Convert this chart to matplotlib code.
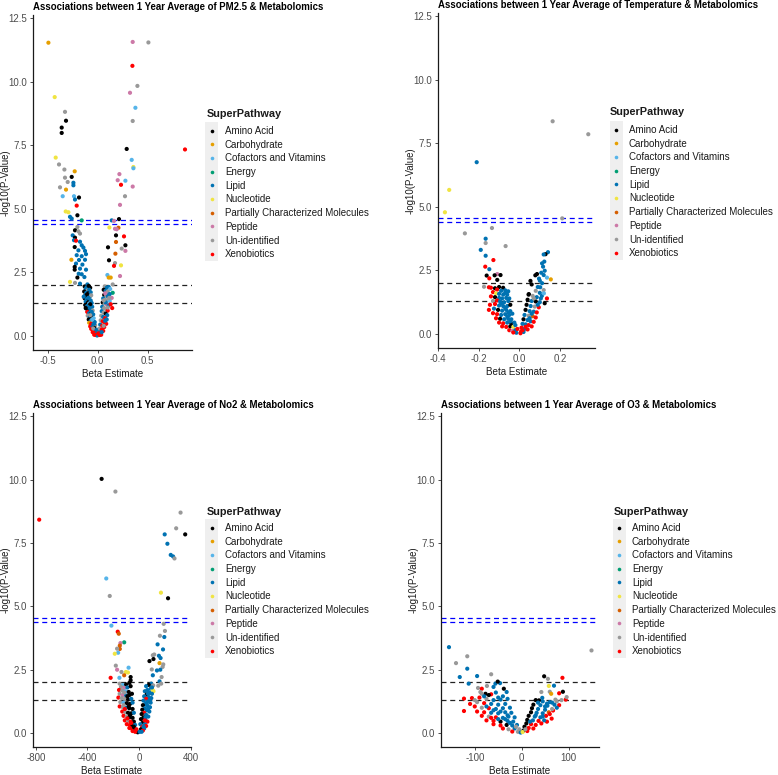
import matplotlib
matplotlib.use("Agg")
import matplotlib.pyplot as plt
from matplotlib.lines import Line2D
from matplotlib.patches import Rectangle

plt.rcParams["font.family"] = ["Liberation Sans", "DejaVu Sans"]

# legend categories and colours
pathways = ["Amino Acid", "Carbohydrate", "Cofactors and Vitamins", "Energy", "Lipid",
            "Nucleotide", "Partially Characterized Molecules", "Peptide", "Un-identified",
            "Xenobiotics"]
codes = ["AA", "CH", "CV", "EN", "LI", "NU", "PC", "PE", "UN", "XE"]
colors = ["#000000", "#E69F00", "#56B4E9", "#009E73", "#0072B2", "#F0E442", "#D55E00",
          "#CC79A7", "#999999", "#FF0000"]

titles = ["Associations between 1 Year Average of PM2.5 & Metabolomics",
          "Associations between 1 Year Average of Temperature & Metabolomics",
          "Associations between 1 Year Average of No2 & Metabolomics",
          "Associations between 1 Year Average of O3 & Metabolomics"]

x_ticks = [[-0.5, 0.0, 0.5], [-0.4, -0.2, 0.0, 0.2], [-800, -400, 0, 400], [-100, 0, 100]]
x_labels = [["-0.5", "0.0", "0.5"], ["-0.4", "-0.2", "0.0", "0.2"],
            ["-800", "-400", "0", "400"], ["-100", "0", "100"]]
y_ticks = [0, 2.5, 5, 7.5, 10, 12.5]
y_labels = ["0.0", "2.5", "5.0", "7.5", "10.0", "12.5"]

black_lines = [2.0, 1.3]
blue_lines = [4.55, 4.40]

# (beta, -log10 p, pathway)
pm25_points = [
    (-0.493, 11.54, "CH"), (0.35, 11.57, "PE"), (0.507, 11.55, "UN"), (0.347, 10.63, "XE"),
    (-0.43, 9.4, "NU"), (0.397, 9.84, "UN"), (0.323, 9.57, "PE"), (0.377, 8.98, "CV"),
    (-0.327, 8.82, "UN"), (-0.317, 8.47, "AA"), (-0.36, 8.2, "AA"), (-0.36, 7.99, "AA"),
    (0.35, 8.46, "UN"), (0.29, 7.36, "AA"), (0.873, 7.34, "XE"), (-0.42, 7.02, "NU"),
    (-0.387, 6.75, "UN"), (-0.333, 6.55, "UN"), (-0.23, 6.48, "CH"), (0.34, 6.93, "CV"),
    (0.357, 6.65, "NU"), (0.357, 6.6, "CV"), (-0.327, 6.23, "UN"), (-0.30, 6.06, "UN"),
    (-0.26, 6.26, "AA"), (-0.243, 6.03, "LI"), (-0.243, 5.93, "LI"), (0.217, 6.37, "PE"),
    (0.2, 6.13, "PE"), (0.277, 6.11, "CV"), (0.233, 5.95, "XE"), (0.35, 5.88, "PE"),
    (-0.377, 5.85, "UN"), (-0.317, 5.76, "CH"), (-0.35, 5.5, "CV"), (-0.237, 5.5, "CV"),
    (-0.227, 5.37, "LI"), (-0.187, 5.45, "AA"), (-0.21, 5.13, "XE"), (0.273, 5.5, "UN"),
    (0.223, 5.16, "PE"), (-0.32, 4.9, "NU"), (-0.293, 4.87, "NU"), (-0.203, 4.75, "AA"),
    (-0.277, 4.69, "LI"), (-0.26, 4.62, "LI"), (-0.16, 4.55, "EN"), (0.14, 4.55, "LI"),
    (0.213, 4.6, "AA"), (0.163, 4.53, "PE"), (0.117, 4.27, "NU"), (0.207, 4.26, "PC"),
    (0.19, 4.2, "PE"), (0.173, 4.22, "PE"), (0.263, 3.92, "XE"), (0.183, 3.96, "AA"),
    (0.183, 3.7, "PC"), (0.277, 3.57, "AA"), (0.103, 3.49, "AA"), (0.24, 3.44, "UN"),
    (0.277, 3.35, "PE"), (0.177, 3.24, "PC"), (0.113, 2.98, "AA"), (0.173, 2.87, "UN"),
    (0.163, 2.76, "XE"), (0.233, 2.78, "NU"), (0.097, 2.4, "CV"), (0.11, 2.3, "CH"),
    (0.13, 2.3, "CH"), (0.223, 2.36, "PE"), (0.15, 2.03, "UN"),
    (-0.203, 4.29, "UN"), (-0.227, 4.16, "AA"), (-0.193, 4.12, "UN"), (-0.177, 4.03, "UN"),
    (-0.25, 3.96, "LI"), (-0.227, 3.87, "AA"), (-0.237, 3.77, "LI"), (-0.217, 3.75, "XE"),
    (-0.177, 3.71, "LI"), (-0.16, 3.57, "LI"), (-0.23, 3.5, "AA"), (-0.143, 3.48, "LI"),
    (-0.193, 3.37, "LI"), (-0.127, 3.35, "LI"), (-0.117, 3.22, "LI"), (-0.21, 3.18, "LI"),
    (-0.16, 3.14, "LI"), (-0.263, 3.0, "CH"), (-0.187, 2.99, "LI"), (-0.127, 3.0, "LI"),
    (-0.217, 2.85, "LI"), (-0.153, 2.81, "LI"), (-0.23, 2.72, "AA"), (-0.23, 2.61, "AA"),
    (-0.177, 2.65, "LI"), (-0.117, 2.61, "LI"), (-0.19, 2.45, "LI"), (-0.16, 2.43, "LI"),
    (-0.203, 2.3, "AA"), (-0.133, 2.32, "LI"), (-0.277, 2.13, "NU"), (-0.227, 2.09, "UN"),
    (-0.177, 2.06, "LI"), (-0.103, 2.03, "LI"),
    (-0.13, 1.95, "AA"), (-0.11, 1.92, "LI"), (-0.09, 1.97, "AA"), (-0.075, 1.9, "AA"),
    (-0.12, 1.85, "LI"), (-0.1, 1.8, "UN"), (-0.085, 1.82, "LI"), (-0.135, 1.75, "AA"),
    (-0.115, 1.7, "LI"), (-0.095, 1.68, "AA"), (-0.07, 1.72, "LI"), (-0.125, 1.6, "LI"),
    (-0.105, 1.58, "AA"), (-0.08, 1.55, "LI"), (-0.065, 1.6, "UN"), (-0.13, 1.48, "AA"),
    (-0.11, 1.45, "LI"), (-0.09, 1.42, "AA"), (-0.07, 1.4, "LI"), (-0.12, 1.35, "LI"),
    (-0.1, 1.3, "AA"), (-0.085, 1.28, "CV"), (-0.06, 1.3, "LI"), (-0.125, 1.22, "AA"),
    (-0.105, 1.18, "LI"), (-0.08, 1.15, "UN"), (-0.055, 1.15, "LI"), (-0.115, 1.08, "LI"),
    (-0.095, 1.05, "AA"), (-0.07, 1.02, "LI"), (-0.05, 1.0, "UN"), (-0.105, 0.95, "XE"),
    (-0.085, 0.9, "LI"), (-0.065, 0.88, "AA"), (-0.045, 0.85, "LI"), (-0.1, 0.8, "UN"),
    (-0.08, 0.75, "LI"), (-0.06, 0.72, "AA"), (-0.04, 0.7, "CV"), (-0.09, 0.65, "AA"),
    (-0.07, 0.6, "LI"), (-0.05, 0.58, "UN"), (-0.03, 0.55, "LI"), (-0.085, 0.52, "CH"),
    (-0.065, 0.48, "XE"), (-0.045, 0.45, "LI"), (-0.025, 0.42, "UN"), (-0.075, 0.38, "XE"),
    (-0.055, 0.35, "LI"), (-0.035, 0.32, "AA"), (-0.065, 0.28, "XE"), (-0.045, 0.22, "XE"),
    (-0.025, 0.2, "LI"), (-0.05, 0.15, "XE"), (-0.03, 0.12, "XE"), (-0.015, 0.08, "LI"),
    (-0.02, 0.04, "XE"), (-0.005, 0.02, "LI"),
    (-0.11, 1.62, "AA"), (-0.095, 1.5, "LI"), (-0.075, 1.25, "AA"), (-0.09, 1.12, "LI"),
    (-0.06, 0.95, "LI"), (-0.075, 0.82, "UN"), (-0.055, 0.65, "CV"), (-0.035, 0.48, "LI"),
    (-0.045, 0.3, "UN"), (-0.01, 0.25, "LI"), (-0.14, 1.55, "LI"), (-0.12, 1.1, "AA"),
    (0.07, 1.95, "UN"), (0.09, 1.9, "LI"), (0.11, 1.93, "LI"), (0.125, 1.85, "CV"),
    (0.06, 1.82, "AA"), (0.08, 1.78, "LI"), (0.1, 1.75, "UN"), (0.15, 1.7, "EN"),
    (0.12, 1.65, "LI"), (0.065, 1.62, "AA"), (0.085, 1.58, "UN"), (0.105, 1.55, "LI"),
    (0.14, 1.5, "PE"), (0.055, 1.48, "LI"), (0.075, 1.42, "UN"), (0.095, 1.4, "UN"),
    (0.12, 1.38, "CV"), (0.05, 1.32, "AA"), (0.07, 1.28, "UN"), (0.09, 1.25, "PE"),
    (0.11, 1.2, "LI"), (0.145, 1.1, "XE"), (0.045, 1.15, "LI"), (0.065, 1.1, "UN"),
    (0.085, 1.05, "UN"), (0.1, 1.0, "XE"), (0.04, 0.98, "LI"), (0.06, 0.92, "UN"),
    (0.08, 0.88, "AA"), (0.095, 0.82, "LI"), (0.035, 0.8, "UN"), (0.055, 0.75, "LI"),
    (0.075, 0.7, "XE"), (0.09, 0.65, "LI"), (0.03, 0.62, "UN"), (0.05, 0.58, "XE"),
    (0.07, 0.52, "XE"), (0.085, 0.48, "XE"), (0.025, 0.45, "LI"), (0.045, 0.4, "XE"),
    (0.065, 0.35, "XE"), (0.02, 0.3, "UN"), (0.04, 0.25, "XE"), (0.055, 0.2, "XE"),
    (0.015, 0.15, "LI"), (0.03, 0.12, "XE"), (0.01, 0.06, "LI"), (0.02, 0.04, "XE"),
    (0.005, 0.1, "XE"), (0.035, 0.05, "XE"), (0.04, 0.15, "LI"), (0.06, 0.4, "UN"),
    (0.075, 0.6, "LI"), (0.1, 1.12, "UN"), (0.08, 1.32, "LI"), (0.06, 1.4, "UN"),
    (0.1, 1.6, "LI"), (0.115, 1.5, "UN"), (0.13, 1.25, "XE"), (0.075, 1.68, "PE"),
    (-0.035, 0.05, "XE"),
]

temp_points = [
    (0.163, 8.37, "UN"), (0.338, 7.86, "UN"), (-0.21, 6.76, "LI"), (-0.345, 5.67, "NU"),
    (-0.366, 4.79, "NU"), (0.21, 4.55, "UN"), (-0.135, 4.17, "UN"), (-0.268, 3.96, "UN"),
    (-0.166, 3.75, "LI"), (-0.166, 3.58, "UN"), (-0.068, 3.46, "UN"), (-0.19, 3.31, "LI"),
    (-0.166, 3.08, "LI"), (-0.128, 2.91, "XE"), (-0.168, 2.65, "XE"), (-0.148, 2.55, "LI"),
    (-0.109, 2.36, "PE"), (-0.122, 2.31, "AA"), (-0.161, 2.3, "AA"), (-0.148, 2.19, "XE"),
    (-0.093, 2.32, "AA"), (-0.174, 1.86, "UN"), (-0.15, 1.84, "XE"), (-0.109, 2.13, "AA"),
    (0.14, 3.22, "LI"), (0.128, 3.14, "AA"), (0.119, 3.13, "LI"), (0.122, 2.85, "LI"),
    (0.111, 2.78, "LI"), (0.116, 2.65, "LI"), (0.124, 2.49, "LI"), (0.119, 2.32, "LI"),
    (0.135, 2.22, "CV"), (0.154, 2.15, "CH"), (0.107, 2.41, "LI"), (0.086, 2.36, "AA"),
    (0.078, 2.31, "AA"), (0.096, 2.18, "LI"), (0.054, 2.09, "AA"), (0.111, 2.0, "LI"),
    (0.102, 1.84, "LI"), (0.119, 1.73, "UN"), (0.046, 1.57, "AA"), (0.135, 1.4, "XE"),
    (0.124, 1.21, "AA"),
    (-0.14, 1.82, "XE"), (-0.12, 1.8, "AA"), (-0.1, 1.85, "AA"), (-0.08, 1.82, "AA"),
    (-0.11, 1.75, "XE"), (-0.09, 1.7, "LI"), (-0.07, 1.72, "LI"), (-0.055, 1.68, "LI"),
    (-0.13, 1.65, "XE"), (-0.115, 1.6, "NU"), (-0.1, 1.58, "LI"), (-0.08, 1.55, "LI"),
    (-0.06, 1.55, "LI"), (-0.14, 1.48, "XE"), (-0.12, 1.45, "AA"), (-0.1, 1.42, "LI"),
    (-0.085, 1.4, "LI"), (-0.065, 1.42, "LI"), (-0.13, 1.3, "UN"), (-0.11, 1.32, "XE"),
    (-0.095, 1.28, "LI"), (-0.075, 1.25, "LI"), (-0.055, 1.3, "LI"), (-0.145, 1.15, "XE"),
    (-0.12, 1.18, "XE"), (-0.1, 1.12, "LI"), (-0.08, 1.1, "LI"), (-0.06, 1.1, "LI"),
    (-0.045, 1.15, "AA"), (-0.15, 0.95, "XE"), (-0.125, 1.0, "LI"), (-0.105, 0.95, "AA"),
    (-0.085, 0.92, "LI"), (-0.065, 0.95, "LI"), (-0.045, 0.9, "LI"), (-0.13, 0.82, "XE"),
    (-0.11, 0.78, "XE"), (-0.09, 0.75, "LI"), (-0.07, 0.78, "LI"), (-0.05, 0.75, "LI"),
    (-0.035, 0.8, "LI"), (-0.115, 0.62, "XE"), (-0.095, 0.6, "AA"), (-0.075, 0.58, "LI"),
    (-0.055, 0.6, "LI"), (-0.04, 0.58, "LI"), (-0.1, 0.45, "XE"), (-0.08, 0.42, "XE"),
    (-0.06, 0.45, "LI"), (-0.04, 0.42, "AA"), (-0.025, 0.45, "LI"), (-0.085, 0.3, "XE"),
    (-0.065, 0.28, "XE"), (-0.045, 0.3, "AA"), (-0.03, 0.28, "NU"), (-0.05, 0.15, "XE"),
    (-0.035, 0.12, "PE"), (-0.02, 0.15, "LI"), (-0.015, 0.05, "LI"), (-0.03, 0.06, "XE"),
    (-0.07, 1.62, "LI"), (-0.05, 1.4, "LI"), (-0.09, 1.2, "LI"), (-0.07, 1.02, "LI"),
    (-0.055, 0.85, "LI"), (-0.06, 0.68, "LI"), (-0.045, 0.5, "LI"), (-0.02, 0.35, "LI"),
    (-0.01, 0.2, "XE"),
    (0.06, 1.95, "AA"), (0.045, 1.55, "AA"), (0.08, 1.7, "UN"), (0.1, 1.62, "LI"),
    (0.065, 1.5, "UN"), (0.085, 1.45, "LI"), (0.105, 1.4, "LI"), (0.04, 1.35, "AA"),
    (0.06, 1.3, "LI"), (0.08, 1.28, "AA"), (0.1, 1.25, "LI"), (0.035, 1.15, "AA"),
    (0.055, 1.1, "LI"), (0.075, 1.08, "UN"), (0.095, 1.05, "XE"), (0.03, 0.95, "AA"),
    (0.05, 0.9, "LI"), (0.07, 0.88, "LI"), (0.085, 0.85, "XE"), (0.025, 0.75, "LI"),
    (0.045, 0.72, "UN"), (0.065, 0.7, "PC"), (0.08, 0.65, "XE"), (0.02, 0.58, "AA"),
    (0.04, 0.55, "LI"), (0.055, 0.5, "LI"), (0.07, 0.48, "XE"), (0.015, 0.4, "LI"),
    (0.03, 0.38, "LI"), (0.045, 0.35, "XE"), (0.06, 0.3, "XE"), (0.01, 0.25, "XE"),
    (0.025, 0.2, "LI"), (0.04, 0.18, "XE"), (0.008, 0.1, "XE"), (0.02, 0.08, "LI"),
    (0.005, 0.03, "XE"), (0.015, 0.15, "XE"), (0.03, 0.28, "XE"), (0.05, 0.62, "LI"),
    (0.06, 0.8, "LI"), (0.09, 1.15, "LI"), (0.11, 1.5, "LI"), (0.09, 1.85, "LI"),
    (0.07, 1.4, "UN"), (0.1, 2.1, "LI"), (0.12, 1.6, "CV"),
]

no2_points = [
    (-290, 10.03, "AA"), (-183, 9.53, "UN"), (-774, 8.42, "XE"), (322, 8.7, "UN"),
    (288, 8.08, "UN"), (358, 7.84, "AA"), (199, 7.84, "LI"), (220, 7.47, "LI"),
    (246, 7.03, "LI"), (264, 6.97, "LI"), (275, 6.89, "UN"), (-254, 6.1, "CV"),
    (-227, 5.41, "UN"), (170, 5.54, "NU"), (225, 5.32, "AA"), (-214, 4.24, "CV"),
    (-165, 4.0, "XE"), (-157, 3.92, "PC"), (-115, 3.58, "EN"), (-144, 3.55, "PE"),
    (-149, 3.45, "PC"), (-149, 3.32, "PC"), (-170, 3.33, "UN"), (-162, 3.17, "CV"),
    (-188, 3.13, "NU"), (-180, 2.66, "UN"), (-170, 2.5, "PE"), (-136, 2.41, "UN"),
    (-81, 2.58, "CV"), (-102, 2.41, "NU"), (-86, 2.39, "NU"), (-115, 2.28, "PC"),
    (-65, 2.21, "AA"), (-220, 2.18, "XE"), (-152, 2.18, "CV"), (-65, 2.08, "AA"),
    (191, 4.31, "UN"), (201, 4.03, "UN"), (162, 3.84, "UN"), (196, 3.79, "LI"),
    (186, 3.3, "LI"), (144, 3.5, "LI"), (154, 3.05, "LI"), (167, 2.96, "LI"),
    (118, 3.1, "UN"), (107, 3.07, "UN"), (81, 2.84, "AA"), (112, 2.92, "AA"),
    (159, 2.76, "CH"), (188, 2.71, "UN"), (183, 2.61, "UN"), (99, 2.51, "UN"),
    (139, 2.47, "LI"), (165, 2.5, "LI"), (107, 2.28, "LI"), (175, 2.21, "UN"),
    (159, 2.04, "LI"), (172, 1.95, "UN"), (149, 1.87, "UN"), (99, 1.78, "AA"),
    (112, 1.65, "NU"),
    (-150, 1.95, "UN"), (-125, 1.9, "CV"), (-100, 1.92, "AA"), (-75, 1.98, "AA"),
    (-140, 1.82, "UN"), (-115, 1.78, "PE"), (-90, 1.8, "LI"), (-65, 1.85, "AA"),
    (-155, 1.7, "XE"), (-130, 1.68, "UN"), (-105, 1.65, "CV"), (-80, 1.62, "AA"),
    (-150, 1.55, "UN"), (-125, 1.5, "PE"), (-100, 1.48, "LI"), (-75, 1.5, "AA"),
    (-55, 1.55, "AA"), (-160, 1.4, "XE"), (-135, 1.38, "UN"), (-110, 1.35, "UN"),
    (-85, 1.32, "AA"), (-60, 1.35, "LI"), (-145, 1.22, "UN"), (-120, 1.2, "CV"),
    (-95, 1.18, "AA"), (-70, 1.15, "AA"), (-50, 1.2, "LI"), (-150, 1.05, "XE"),
    (-125, 1.02, "UN"), (-100, 1.0, "LI"), (-75, 0.98, "AA"), (-50, 0.95, "AA"),
    (-130, 0.85, "XE"), (-105, 0.82, "UN"), (-85, 0.8, "AA"), (-60, 0.78, "AA"),
    (-40, 0.8, "LI"), (-120, 0.68, "XE"), (-95, 0.65, "UN"), (-75, 0.62, "AA"),
    (-50, 0.6, "AA"), (-110, 0.5, "XE"), (-85, 0.48, "UN"), (-65, 0.45, "XE"),
    (-40, 0.45, "AA"), (-95, 0.35, "XE"), (-70, 0.32, "XE"), (-50, 0.3, "AA"),
    (-30, 0.32, "LI"), (-75, 0.2, "XE"), (-55, 0.18, "XE"), (-35, 0.15, "AA"),
    (-50, 0.08, "XE"), (-25, 0.08, "LI"), (-10, 0.03, "AA"),
    (-115, 1.6, "UN"), (-90, 1.45, "AA"), (-120, 1.1, "UN"), (-80, 1.05, "AA"),
    (-110, 0.95, "XE"), (-70, 0.7, "AA"), (-90, 0.58, "XE"), (-60, 0.4, "XE"),
    (-40, 0.25, "AA"), (-20, 0.15, "XE"), (-30, 0.05, "XE"),
    (95, 1.95, "LI"), (75, 1.9, "AA"), (110, 1.88, "UN"), (55, 1.85, "LI"),
    (90, 1.75, "LI"), (105, 1.7, "NU"), (65, 1.7, "LI"), (45, 1.65, "LI"),
    (80, 1.6, "LI"), (100, 1.55, "LI"), (60, 1.52, "AA"), (40, 1.45, "LI"),
    (75, 1.42, "LI"), (95, 1.38, "LI"), (55, 1.35, "XE"), (35, 1.28, "LI"),
    (70, 1.25, "LI"), (90, 1.2, "LI"), (50, 1.15, "LI"), (30, 1.1, "AA"),
    (65, 1.08, "LI"), (85, 1.02, "LI"), (45, 0.98, "LI"), (25, 0.92, "AA"),
    (60, 0.9, "LI"), (80, 0.85, "LI"), (40, 0.8, "XE"), (20, 0.75, "AA"),
    (55, 0.72, "LI"), (72, 0.65, "LI"), (35, 0.62, "AA"), (15, 0.55, "AA"),
    (50, 0.52, "LI"), (65, 0.45, "XE"), (30, 0.42, "AA"), (45, 0.35, "LI"),
    (10, 0.35, "LI"), (55, 0.28, "XE"), (25, 0.25, "XE"), (40, 0.18, "LI"),
    (15, 0.15, "AA"), (30, 0.1, "XE"), (5, 0.05, "LI"),
    (20, 0.05, "LI"), (35, 0.25, "LI"), (50, 0.62, "LI"), (70, 0.95, "LI"),
    (85, 1.3, "LI"), (100, 1.8, "LI"), (70, 1.55, "LI"), (60, 1.2, "LI"), (45, 0.5, "XE"),
]

o3_points = [
    (-155, 3.39, "LI"), (149, 3.26, "UN"), (-116, 3.03, "UN"), (-140, 2.76, "UN"),
    (-116, 2.54, "LI"), (-132, 2.21, "LI"), (-113, 1.95, "LI"), (-95, 2.25, "LI"),
    (-65, 2.32, "UN"), (-93, 1.78, "UN"), (-74, 1.86, "UN"), (-56, 1.95, "LI"),
    (-46, 1.97, "LI"), (-51, 2.03, "AA"), (-60, 1.82, "LI"), (-123, 1.36, "XE"),
    (-106, 1.38, "XE"), (-123, 0.87, "XE"), (-85, 1.75, "XE"), (-88, 1.62, "UN"),
    (-77, 1.55, "AA"), (-65, 1.53, "XE"), (-32, 1.62, "LI"), (-38, 1.75, "AA"),
    (48, 2.24, "AA"), (56, 2.14, "UN"), (87, 2.18, "XE"), (58, 1.86, "NU"),
    (60, 1.63, "UN"), (63, 1.55, "CH"), (69, 1.87, "LI"), (80, 1.57, "XE"),
    (72, 1.32, "UN"), (88, 1.63, "AA"), (94, 1.32, "XE"), (96, 1.42, "UN"),
    (42, 1.62, "UN"), (44, 1.39, "LI"), (37, 1.29, "AA"), (67, 0.89, "XE"),
    (54, 0.45, "XE"), (64, 0.57, "XE"), (54, 1.16, "LI"),
    (-85, 1.55, "UN"), (-70, 1.5, "AA"), (-55, 1.6, "LI"), (-40, 1.45, "LI"),
    (-90, 1.4, "XE"), (-75, 1.35, "UN"), (-60, 1.3, "LI"), (-45, 1.32, "LI"),
    (-30, 1.35, "LI"), (-95, 1.22, "UN"), (-80, 1.18, "XE"), (-65, 1.15, "LI"),
    (-50, 1.12, "LI"), (-35, 1.15, "LI"), (-100, 1.05, "XE"), (-85, 1.0, "UN"),
    (-70, 0.98, "XE"), (-55, 0.95, "LI"), (-40, 0.98, "LI"), (-25, 1.0, "LI"),
    (-95, 0.85, "XE"), (-80, 0.82, "XE"), (-65, 0.8, "LI"), (-50, 0.78, "LI"),
    (-35, 0.82, "LI"), (-22, 0.8, "LI"), (-85, 0.68, "XE"), (-70, 0.65, "UN"),
    (-55, 0.62, "XE"), (-40, 0.6, "LI"), (-28, 0.65, "LI"), (-15, 0.62, "LI"),
    (-75, 0.5, "XE"), (-60, 0.48, "XE"), (-45, 0.45, "AA"), (-30, 0.48, "LI"),
    (-18, 0.45, "LI"), (-60, 0.35, "XE"), (-45, 0.3, "XE"), (-32, 0.32, "AA"),
    (-20, 0.3, "LI"), (-10, 0.32, "LI"), (-40, 0.18, "XE"), (-28, 0.15, "UN"),
    (-15, 0.18, "LI"), (-5, 0.15, "UN"), (-20, 0.06, "XE"), (-8, 0.05, "UN"),
    (-2, 0.02, "LI"),
    (-75, 1.05, "LI"), (-60, 0.9, "LI"), (-45, 0.85, "LI"), (-30, 0.7, "LI"),
    (-50, 0.55, "LI"), (-35, 0.55, "LI"), (-25, 0.4, "LI"), (-12, 0.25, "UN"),
    (-65, 0.6, "XE"), (-100, 1.3, "UN"), (-110, 1.15, "XE"), (-80, 1.45, "LI"),
    (-50, 1.4, "LI"),
    (30, 1.3, "AA"), (45, 1.25, "LI"), (60, 1.22, "LI"), (75, 1.25, "UN"),
    (85, 1.3, "UN"), (25, 1.12, "AA"), (40, 1.1, "LI"), (55, 1.08, "LI"),
    (70, 1.12, "LI"), (80, 1.1, "XE"), (22, 0.98, "AA"), (35, 0.95, "LI"),
    (50, 0.92, "LI"), (65, 0.95, "UN"), (20, 0.82, "AA"), (32, 0.8, "LI"),
    (45, 0.78, "LI"), (58, 0.82, "PC"), (15, 0.68, "AA"), (28, 0.65, "LI"),
    (40, 0.62, "LI"), (52, 0.68, "XE"), (12, 0.52, "AA"), (24, 0.5, "LI"),
    (36, 0.48, "XE"), (48, 0.5, "LI"), (10, 0.38, "AA"), (20, 0.35, "XE"),
    (30, 0.32, "XE"), (42, 0.38, "XE"), (6, 0.25, "AA"), (15, 0.2, "XE"),
    (25, 0.18, "XE"), (4, 0.1, "AA"), (12, 0.08, "XE"), (2, 0.04, "NU"),
    (35, 1.2, "LI"), (50, 1.05, "LI"), (65, 1.2, "LI"), (30, 0.7, "LI"),
    (45, 0.65, "LI"), (18, 0.45, "LI"), (8, 0.15, "UN"), (60, 0.75, "XE"), (75, 1.0, "LI"),
]

W, H = 778, 775
fig = plt.figure(figsize=(W / 100, H / 100), dpi=100)

# axes boxes in pixels: left, top, right, bottom
boxes = [(33, 15, 192, 350), (438, 13, 595, 348), (33, 413, 191, 747), (441, 413, 599, 747)]
xlims = [(-0.647, 0.943), (-0.395, 0.371), (-822, 403), (-172, 165)]
legend_title_pos = [(207, 114), (610, 112), (207, 512), (614, 512)]
legend_key_x = [212, 616, 212, 619]
legend_first_row = [133, 132, 530, 530]
panels = [pm25_points, temp_points, no2_points, o3_points]

color_of = dict(zip(codes, colors))

for i, pts in enumerate(panels):
    l, t, r, b = boxes[i]
    ax = fig.add_axes([l / W, 1 - b / H, (r - l) / W, (b - t) / H])
    xs = [p[0] for p in pts]
    ys = [p[1] for p in pts]
    cs = [color_of[p[2]] for p in pts]
    ax.scatter(xs, ys, c=cs, s=9, linewidths=0, zorder=3)
    for yl in black_lines:
        ax.axhline(yl, color="#222222", lw=0.9, ls=(0, (4, 3)), zorder=2)
    for yl in blue_lines:
        ax.axhline(yl, color="#0000FF", lw=0.9, ls=(0, (4, 3)), zorder=2)
    ax.set_xlim(*xlims[i])
    ax.set_ylim(-0.55, 12.63)
    ax.set_xticks(x_ticks[i])
    ax.set_xticklabels(x_labels[i])
    ax.set_yticks(y_ticks)
    ax.set_yticklabels(y_labels)
    for s in ["top", "right"]:
        ax.spines[s].set_visible(False)
    for s in ["left", "bottom"]:
        ax.spines[s].set_linewidth(0.9)
        ax.spines[s].set_color("#1a1a1a")
    ax.tick_params(labelsize=7, colors="#4d4d4d", length=2.5, width=0.7, pad=2)
    ax.set_xlabel("Beta Estimate", fontsize=7.1, color="#1a1a1a", labelpad=2)
    ax.set_ylabel("-log10(P-Value)", fontsize=6.9, color="#1a1a1a")
    ax.yaxis.set_label_coords(-22.0 / (r - l), 0.5)
    ax.set_title(titles[i], loc="left", fontsize=6.9, fontweight="bold", pad=3.5)

    tx, ty = legend_title_pos[i]
    fig.text(tx / W, 1 - ty / H, "SuperPathway", fontsize=7.8, fontweight="bold",
             ha="left", va="center", color="#1a1a1a")

    handles = [Line2D([], [], marker="o", ls="", color=c, markersize=2.6,
                      markeredgewidth=0) for c in colors]
    kx = legend_key_x[i]
    fy = legend_first_row[i]
    leg = ax.legend(handles, pathways, loc="upper left",
                    bbox_to_anchor=((kx - 5) / W, 1 - (fy - 7) / H),
                    bbox_transform=fig.transFigure, frameon=False, fontsize=7,
                    handlelength=1.0, handletextpad=0.85, labelspacing=0.38,
                    borderpad=0, borderaxespad=0)
    for txt in leg.get_texts():
        txt.set_color("#1a1a1a")
    # light grey strip behind the legend keys
    fig.add_artist(Rectangle(((kx - 6.5) / W, 1 - (fy + 128) / H), 13 / W, 139 / H,
                             transform=fig.transFigure, facecolor="#EFEFEF",
                             edgecolor="none", zorder=-1))

fig.savefig("out.png", dpi=100)
